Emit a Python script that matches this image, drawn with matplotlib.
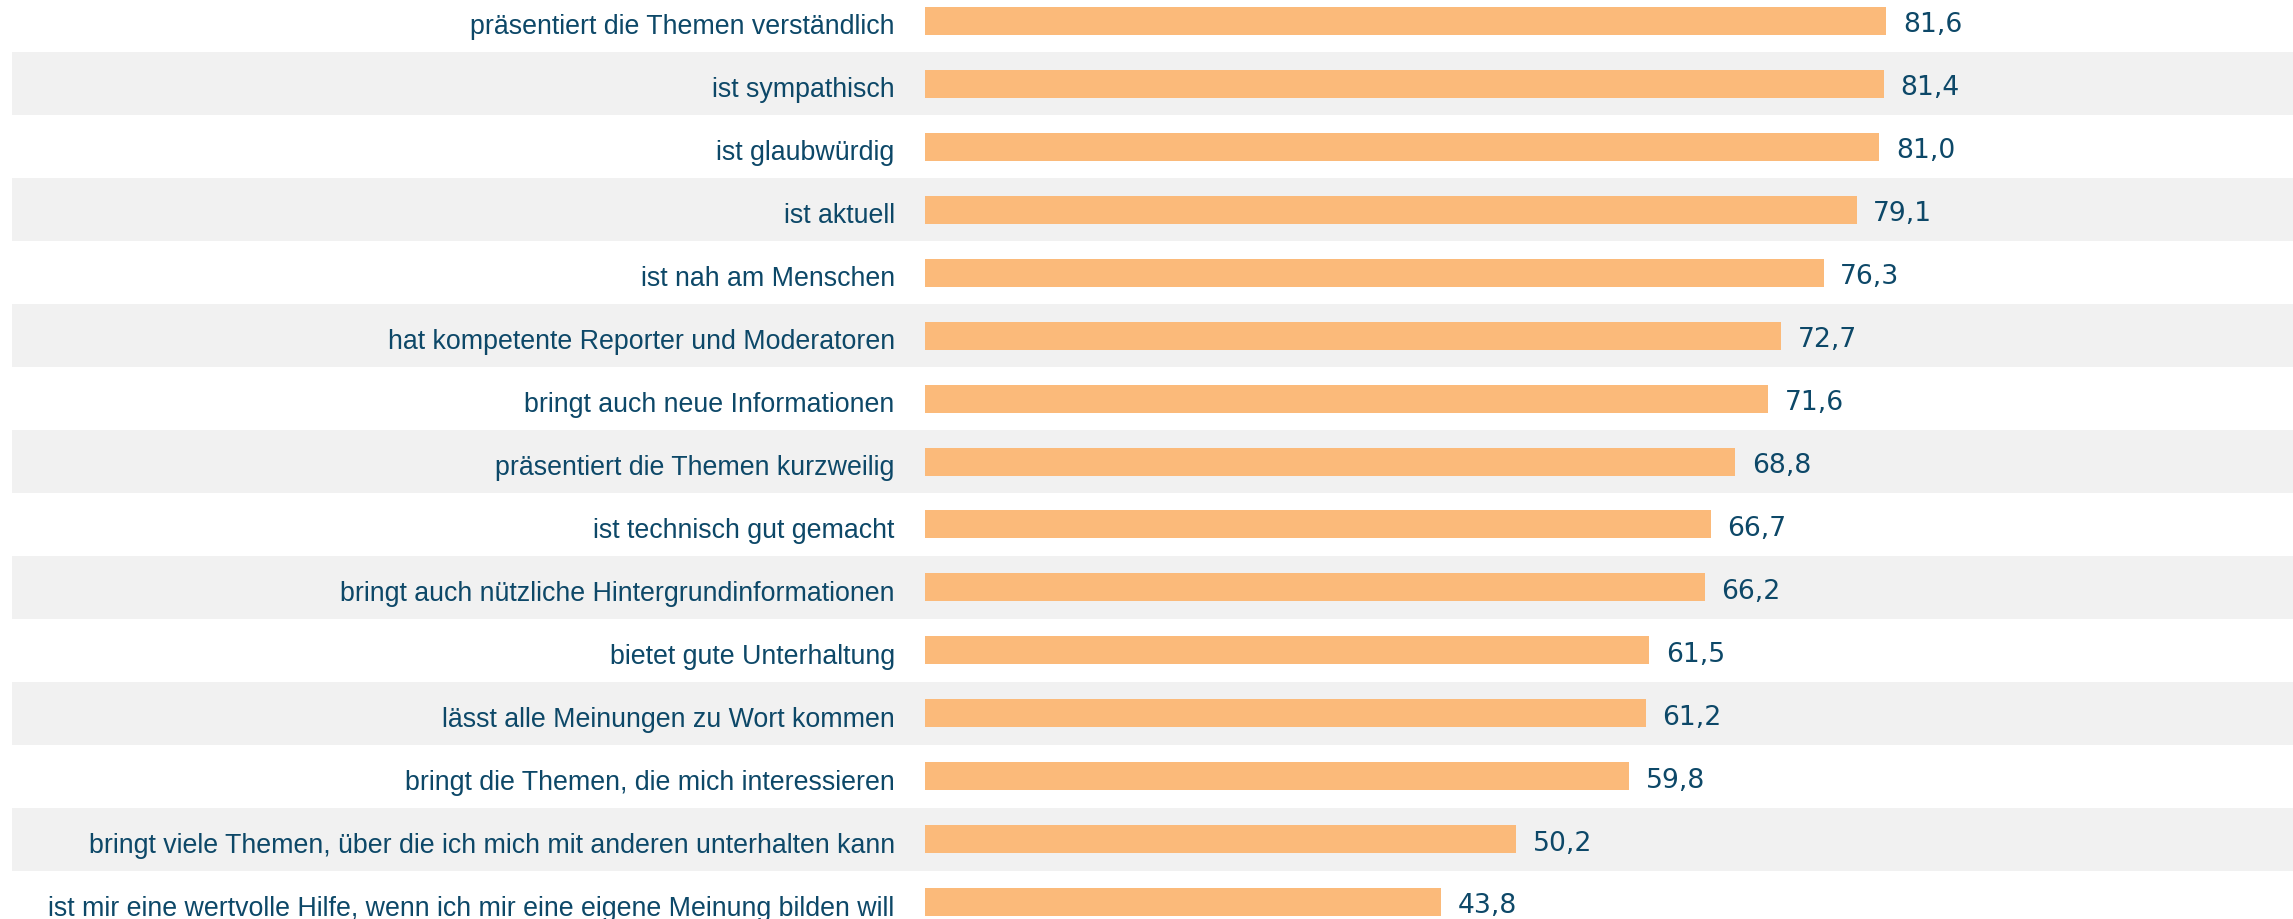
import numpy as np
import matplotlib
matplotlib.use("Agg")
import matplotlib.pyplot as plt

labels = [
    "präsentiert die Themen verständlich",
    "ist sympathisch",
    "ist glaubwürdig",
    "ist aktuell",
    "ist nah am Menschen",
    "hat kompetente Reporter und Moderatoren",
    "bringt auch neue Informationen",
    "präsentiert die Themen kurzweilig",
    "ist technisch gut gemacht",
    "bringt auch nützliche Hintergrundinformationen",
    "bietet gute Unterhaltung",
    "lässt alle Meinungen zu Wort kommen",
    "bringt die Themen, die mich interessieren",
    "bringt viele Themen, über die ich mich mit anderen unterhalten kann",
    "ist mir eine wertvolle Hilfe, wenn ich mir eine eigene Meinung bilden will",
]
values = [81.6, 81.4, 81.0, 79.1, 76.3, 72.7, 71.6, 68.8, 66.7, 66.2, 61.5, 61.2, 59.8, 50.2, 43.8]

BAR_COLOR = "#fbba7a"
TEXT_COLOR = "#0d4868"
BAND_COLOR = "#f1f1f1"

W, H, DPI = 2293, 920, 100
# pixel layout
band_left = 12
zero_px = 924.5
px_per_unit = 11.785
row0_px = 22
row_pitch = 62.93

fig = plt.figure(figsize=(W / DPI, H / DPI), dpi=DPI)
ax = fig.add_axes([band_left / W, 0, 1 - band_left / W, 1])
ax.set_xlim(-(zero_px - band_left) / px_per_unit, (W - zero_px) / px_per_unit)
ax.set_ylim((H - row0_px) / row_pitch, -row0_px / row_pitch)
ax.axis("off")

y = np.arange(len(labels))
for i in y:
    if i % 2 == 1:
        ax.axhspan(i - 0.5, i + 0.5, color=BAND_COLOR, zorder=0, lw=0)

ax.barh(y, values, height=28 / row_pitch, color=BAR_COLOR, zorder=2)

for i, (lab, v) in enumerate(zip(labels, values)):
    ax.annotate(lab, (0, i), xytext=(-21.5, -9), textcoords="offset points",
                ha="right", va="baseline", color=TEXT_COLOR,
                fontsize=19.3, family="Liberation Sans")
    ax.annotate(f"{v:.1f}".replace(".", ","), (v, i), xytext=(12, -7.5),
                textcoords="offset points", ha="left", va="baseline",
                color=TEXT_COLOR, fontsize=19.2, family="DejaVu Sans")

fig.savefig("out.png", dpi=DPI)
